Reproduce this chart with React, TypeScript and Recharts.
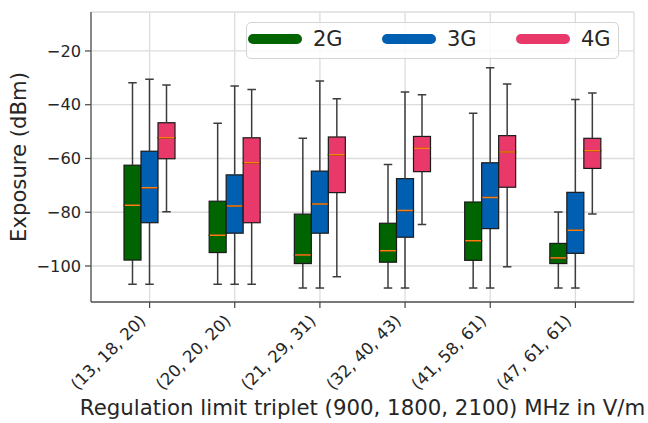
import React from 'react';
import { ComposedChart, Bar, XAxis, YAxis, CartesianGrid, Legend, Label } from 'recharts';

// ---------- data ----------
const categories = ['(13, 18, 20)', '(20, 20, 20)', '(21, 29, 31)', '(32, 40, 43)', '(41, 58, 61)', '(47, 61, 61)'];
const seriesNames = ['2G', '3G', '4G'];
const seriesColors = ['#006400', '#005fb1', '#e8396a'];
const yTicks = [-100, -80, -60, -40, -20];

// [min, q1, median, q3, max] per category
const stats2G = [
  [-106.8, -97.8, -77.4, -62.5, -31.8],
  [-106.8, -95.0, -88.6, -75.9, -46.9],
  [-108.2, -99.1, -95.9, -80.7, -52.5],
  [-108.2, -98.6, -94.3, -84.1, -62.2],
  [-108.2, -97.9, -90.6, -76.2, -43.2],
  [-108.2, -99.1, -97.0, -91.6, -79.9],
];
const stats3G = [
  [-106.8, -83.9, -70.9, -57.3, -30.5],
  [-106.8, -87.8, -77.7, -66.1, -33.0],
  [-108.2, -87.8, -76.9, -64.7, -31.2],
  [-108.2, -89.3, -79.4, -67.5, -35.3],
  [-108.2, -86.1, -74.5, -61.6, -26.2],
  [-108.2, -95.3, -86.7, -72.6, -38.1],
];
const stats4G = [
  [-79.8, -60.1, -52.3, -46.7, -32.7],
  [-106.8, -83.9, -61.6, -52.3, -34.3],
  [-104.0, -72.7, -58.6, -52.0, -37.8],
  [-84.6, -64.9, -56.2, -51.8, -36.3],
  [-100.3, -70.7, -57.6, -51.5, -32.3],
  [-80.7, -63.7, -57.1, -52.5, -35.6],
];

const allStats = [stats2G, stats3G, stats4G];

const data = categories.map((cat, i) => {
  const row: any = { cat };
  seriesNames.forEach((s, k) => {
    const [mn, q1, md, q3, mx] = allStats[k][i];
    row[`${s}_base`] = mn;
    row[`${s}_lw`] = q1 - mn;
    row[`${s}_lb`] = md - q1;
    row[`${s}_ub`] = q3 - md;
    row[`${s}_uw`] = mx - q3;
  });
  return row;
});

// ---------- styles ----------
const FONT = 'DejaVu Sans';
const TEXT = '#262626';
const WHISKER = '#3c3c3c';
const EDGE = '#1a1a1a';
const MEDIAN = '#ff7f0e';

const Hidden = () => <g />;

const LowerWhisker = (p: any) => {
  const { x, y, width, height } = p;
  const cx = x + width / 2;
  const yb = y + height;
  return (
    <g>
      <line x1={cx} y1={y} x2={cx} y2={yb} stroke={WHISKER} strokeWidth={1.5} />
      <line x1={cx - width / 4} y1={yb} x2={cx + width / 4} y2={yb} stroke={WHISKER} strokeWidth={1.5} />
    </g>
  );
};

const UpperWhisker = (p: any) => {
  const { x, y, width, height } = p;
  const cx = x + width / 2;
  return (
    <g>
      <line x1={cx} y1={y} x2={cx} y2={y + height} stroke={WHISKER} strokeWidth={1.5} />
      <line x1={cx - width / 4} y1={y} x2={cx + width / 4} y2={y} stroke={WHISKER} strokeWidth={1.5} />
    </g>
  );
};

const makeLowerBox = (color: string) => (p: any) => {
  const { x, y, width, height } = p;
  return <rect x={x} y={y} width={width} height={height} fill={color} stroke={EDGE} strokeWidth={1.2} />;
};

const makeUpperBox = (color: string) => (p: any) => {
  const { x, y, width, height } = p;
  const ym = y + height;
  return (
    <g>
      <rect x={x} y={y} width={width} height={height} fill={color} stroke={EDGE} strokeWidth={1.2} />
      <line x1={x + 0.6} y1={ym} x2={x + width - 0.6} y2={ym} stroke={MEDIAN} strokeWidth={1.5} />
    </g>
  );
};

const XTick = (props: any) => {
  const { x, y, payload } = props;
  return (
    <g transform={`translate(${x},${y})`}>
      <text
        x={-3}
        y={12}
        textAnchor="end"
        transform="rotate(-45, -3, 12)"
        fontSize={16.6}
        fontFamily={FONT}
        fill={TEXT}
      >
        {payload.value}
      </text>
    </g>
  );
};

const LegendContent = () => (
  <div
    style={{
      position: 'relative',
      width: 373,
      height: 37,
      boxSizing: 'border-box',
      border: '1px solid #d4d4d4',
      borderRadius: 5,
      background: 'rgba(255,255,255,0.85)',
      fontFamily: FONT,
      fontSize: 21,
      color: TEXT,
    }}
  >
    {seriesNames.map((s, k) => (
      <div key={s} style={{ position: 'absolute', left: 1 + 134 * k, top: 0, height: 35 }}>
        <div
          style={{
            position: 'absolute',
            left: 0,
            top: 11,
            width: 54,
            height: 10,
            borderRadius: 5,
            background: seriesColors[k],
          }}
        />
        <span style={{ position: 'absolute', left: 65, top: 3, lineHeight: '27px', whiteSpace: 'nowrap' }}>{s}</span>
      </div>
    ))}
  </div>
);

const fmt = (v: number) => String(v).replace('-', '\u2212');

export default function App() {
  return (
    <div style={{ position: 'absolute', left: 0, top: 0, width: 648, height: 423, background: '#fff' }}>
      <ComposedChart
        width={648}
        height={423}
        data={data}
        margin={{ top: 12, right: 14, bottom: 0, left: 0 }}
        stackOffset="none"
        barGap={0}
        barSize={17}
      >
        <CartesianGrid stroke="#dcdcdc" strokeWidth={1.3} />
        <XAxis
          dataKey="cat"
          type="category"
          height={121}
          padding={{ left: 16, right: 16 }}
          interval={0}
          tick={<XTick />}
          tickSize={6}
          tickLine={{ stroke: '#444', strokeWidth: 1.2 }}
          axisLine={{ stroke: '#555', strokeWidth: 1.3 }}
        >
          <Label
            content={(p: any) => {
              const vb = p.viewBox;
              const cx = vb.x + vb.width / 2;
              return (
                <text x={cx} y={415} textAnchor="middle" fontSize={21.3} fontFamily={FONT} fill={TEXT}>
                  Regulation limit triplet (900, 1800, 2100) MHz in V/m
                </text>
              );
            }}
          />
        </XAxis>
        <XAxis
          xAxisId="top"
          dataKey="cat"
          orientation="top"
          height={0}
          tick={false}
          tickLine={false}
          axisLine={{ stroke: '#555', strokeWidth: 1.3 }}
        />
        <YAxis
          type="number"
          width={91}
          domain={[-113.4, -5.5]}
          allowDataOverflow
          ticks={yTicks}
          tickFormatter={fmt}
          tickSize={6}
          tickMargin={4}
          tick={{ fontSize: 16.2, fontFamily: FONT, fill: TEXT }}
          tickLine={{ stroke: '#444', strokeWidth: 1.2 }}
          axisLine={{ stroke: '#555', strokeWidth: 1.3 }}
        >
          <Label
            content={(p: any) => {
              const vb = p.viewBox;
              const cx = 18;
              const cy = vb.y + vb.height / 2;
              return (
                <text
                  x={cx}
                  y={cy}
                  transform={`rotate(-90, ${cx}, ${cy})`}
                  textAnchor="middle"
                  dominantBaseline="central"
                  fontSize={21.2}
                  fontFamily={FONT}
                  fill={TEXT}
                >
                  Exposure (dBm)
                </text>
              );
            }}
          />
        </YAxis>
        <YAxis
          yAxisId="right"
          orientation="right"
          width={0}
          tick={false}
          tickLine={false}
          axisLine={{ stroke: '#555', strokeWidth: 1.3 }}
        />
        {seriesNames.map((s, k) => [
          <Bar key={`${s}_base`} dataKey={`${s}_base`} stackId={s} shape={<Hidden />} isAnimationActive={false} legendType="none" />,
          <Bar key={`${s}_lw`} dataKey={`${s}_lw`} stackId={s} shape={LowerWhisker} isAnimationActive={false} legendType="none" />,
          <Bar key={`${s}_lb`} dataKey={`${s}_lb`} stackId={s} shape={makeLowerBox(seriesColors[k])} isAnimationActive={false} legendType="none" />,
          <Bar key={`${s}_ub`} dataKey={`${s}_ub`} stackId={s} shape={makeUpperBox(seriesColors[k])} isAnimationActive={false} legendType="none" />,
          <Bar key={`${s}_uw`} dataKey={`${s}_uw`} stackId={s} shape={UpperWhisker} isAnimationActive={false} legendType="none" />,
        ])}
        <Legend
          layout="horizontal"
          verticalAlign="middle"
          align="center"
          content={<LegendContent />}
          wrapperStyle={{ left: 246, top: 22, width: 373, height: 37 }}
        />
      </ComposedChart>
    </div>
  );
}
